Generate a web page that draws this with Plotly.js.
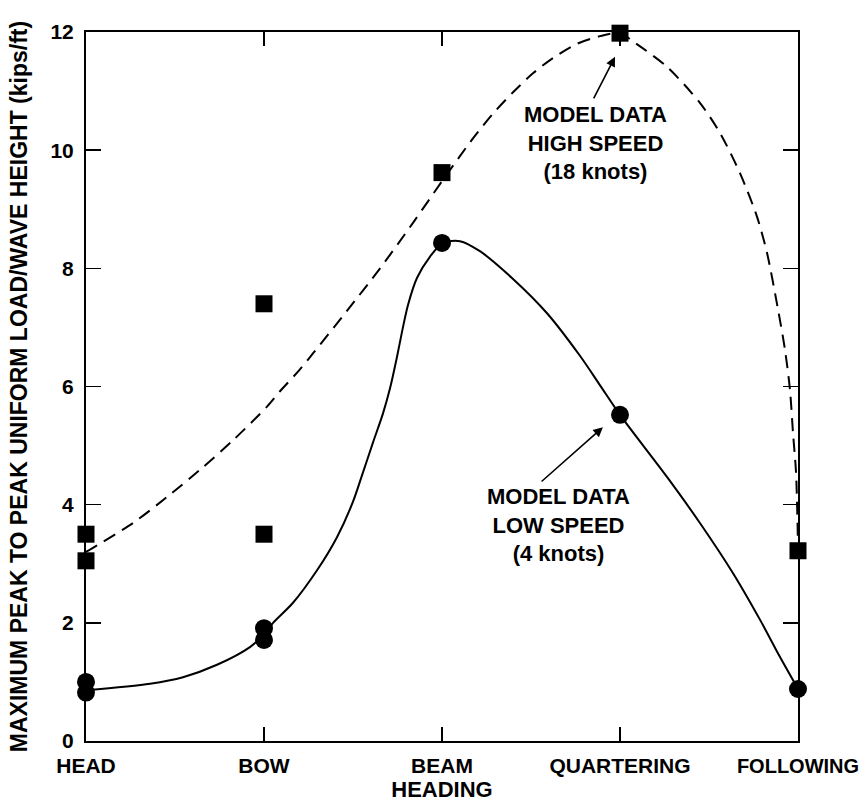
<!DOCTYPE html>
<html>
<head>
<meta charset="utf-8">
<script src="https://cdn.plot.ly/plotly-3.0.1.min.js"></script>
<style>html,body{margin:0;padding:0;background:#fff;}#chart{width:862px;height:802px;}</style>
</head>
<body>
<div id="chart"></div>
<script>
// Heading categories (positions 0..4 on the x axis)
const headings = ["HEAD", "BOW", "BEAM", "QUARTERING", "FOLLOWING"];
const headingPos = [0, 1, 2, 3, 4];

// Model data, high speed (18 knots) - squares
const highX = [0, 0, 1, 1, 2, 3, 4];
const highY = [3.5, 3.05, 7.4, 3.5, 9.62, 11.98, 3.22];

// Model data, low speed (4 knots) - circles
const lowX = [0, 0, 1, 1, 2, 3, 4];
const lowY = [1.0, 0.82, 1.91, 1.71, 8.43, 5.52, 0.88];

// Faired curve through high-speed data (dashed)
const highCurveX = [0.0, 0.039, 0.264, 0.455, 0.640, 0.826, 1.017, 1.090, 1.202, 1.275, 1.466, 1.652, 1.837, 2.006, 2.174, 2.287, 2.399, 2.511, 2.624, 2.758, 2.888, 3.0, 3.073, 3.264, 3.449, 3.562, 3.674, 3.770, 3.826, 3.888, 3.927, 3.955, 3.972, 3.989, 4.0];
const highCurveY = [3.2, 3.27, 3.69, 4.13, 4.59, 5.09, 5.66, 5.92, 6.29, 6.56, 7.28, 8.0, 8.77, 9.50, 10.2, 10.62, 10.98, 11.30, 11.56, 11.80, 11.93, 11.98, 11.84, 11.41, 10.80, 10.29, 9.61, 8.87, 8.26, 7.30, 6.62, 5.94, 5.21, 4.54, 3.3];

// Faired curve through low-speed data (solid)
const lowCurveX = [0.0, 0.360, 0.545, 0.736, 0.921, 0.994, 1.051, 1.163, 1.298, 1.410, 1.500, 1.551, 1.612, 1.669, 1.708, 1.747, 1.775, 1.809, 1.860, 1.933, 2.006, 2.101, 2.213, 2.399, 2.590, 2.775, 2.888, 3.0, 3.264, 3.449, 3.635, 3.787, 3.899, 4.0];
const lowCurveY = [0.86, 0.97, 1.08, 1.29, 1.59, 1.79, 2.0, 2.34, 2.89, 3.45, 4.05, 4.50, 5.05, 5.55, 5.97, 6.50, 6.92, 7.38, 7.84, 8.20, 8.43, 8.46, 8.29, 7.82, 7.24, 6.52, 6.02, 5.52, 4.47, 3.69, 2.84, 2.05, 1.42, 0.88];

// Y ticks
const yTicks = [0, 2, 4, 6, 8, 10, 12];

const FONT = "Liberation Sans, Arial, Helvetica, sans-serif";

// the last heading label sits at the right edge; draw it a little smaller so it stays inside
const tickText = headings.map((h, i) => i === headings.length - 1 ? "<span style='font-size:20px'>" + h + "</span>" : h);

const traces = [
  {x: highCurveX, y: highCurveY, type: "scatter", mode: "lines",
   line: {color: "#000", width: 2, dash: "13px,8px", shape: "spline", smoothing: 0.8},
   hoverinfo: "skip", cliponaxis: false},
  {x: lowCurveX, y: lowCurveY, type: "scatter", mode: "lines",
   line: {color: "#000", width: 2, shape: "spline", smoothing: 0.8},
   hoverinfo: "skip", cliponaxis: false},
  {x: highX, y: highY, type: "scatter", mode: "markers",
   marker: {symbol: "square", size: 17, color: "#000"}, cliponaxis: false},
  {x: lowX, y: lowY, type: "scatter", mode: "markers",
   marker: {symbol: "circle", size: 18, color: "#000"}, cliponaxis: false}
];

const layout = {
  width: 862, height: 802,
  margin: {l: 86, r: 64, t: 32, b: 61},
  paper_bgcolor: "#fff", plot_bgcolor: "#fff",
  showlegend: false,
  font: {family: FONT, color: "#000", weight: 700},
  xaxis: {
    range: [0, 4], tickvals: headingPos, ticktext: tickText,
    showgrid: false, zeroline: false,
    showline: true, linecolor: "#000", linewidth: 2, mirror: "ticks",
    ticks: "inside", ticklen: 14, tickwidth: 1.5, tickcolor: "#000",
    tickfont: {family: FONT, size: 21, color: "#000", weight: 700},
    ticklabelstandoff: 5, ticklabeloverflow: "allow",
    title: {text: "HEADING", font: {family: FONT, size: 22, color: "#000", weight: 700}, standoff: 5}
  },
  yaxis: {
    range: [0, 12], tickvals: yTicks,
    showgrid: false, zeroline: false,
    showline: true, linecolor: "#000", linewidth: 2, mirror: "ticks",
    ticks: "inside", ticklen: 15, tickwidth: 1.5, tickcolor: "#000",
    tickfont: {family: FONT, size: 21, color: "#000", weight: 700},
    ticklabelstandoff: 6,
    title: {text: "MAXIMUM PEAK TO PEAK UNIFORM LOAD/WAVE HEIGHT (kips/ft)",
            font: {family: FONT, size: 23, color: "#000", weight: 700}, standoff: 16}
  },
  annotations: [
    {x: 2.86, y: 10.12, xref: "x", yref: "y", showarrow: false,
     text: "MODEL DATA<br>HIGH SPEED<br>(18 knots)",
     font: {family: FONT, size: 22, color: "#000", weight: 700}, align: "center"},
    {x: 2.972, y: 11.58, xref: "x", yref: "y", ax: 2.848, ay: 10.85, axref: "x", ayref: "y",
     text: "", showarrow: true, arrowhead: 2, arrowsize: 1.2, arrowwidth: 1.6, arrowcolor: "#000"},
    {x: 2.652, y: 3.66, xref: "x", yref: "y", showarrow: false,
     text: "MODEL DATA<br>LOW SPEED<br>(4 knots)",
     font: {family: FONT, size: 22, color: "#000", weight: 700}, align: "center"},
    {x: 2.904, y: 5.31, xref: "x", yref: "y", ax: 2.551, ay: 4.37, axref: "x", ayref: "y",
     text: "", showarrow: true, arrowhead: 2, arrowsize: 1.2, arrowwidth: 1.6, arrowcolor: "#000"}
  ]
};

Plotly.newPlot("chart", traces, layout, {staticPlot: true, displayModeBar: false});
</script>
</body>
</html>
